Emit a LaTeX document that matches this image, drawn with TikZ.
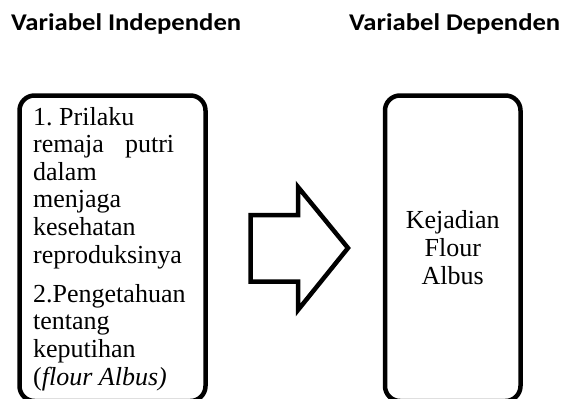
\documentclass[tikz,border=0pt]{standalone}
\usepackage{fontspec}
\setmainfont{Liberation Serif}
\newfontfamily\headfont{Carlito}
\frenchspacing
\begin{document}
\begin{tikzpicture}[x=1pt,y=-1pt,
  varbox/.style={draw=black, line width=4.5pt, rounded corners=15pt, inner sep=0pt},
  headtext/.style={anchor=base west, inner sep=0pt, font=\headfont\bfseries\fontsize{24pt}{28pt}\selectfont},
  bodytext/.style={inner sep=0pt}]
\useasboundingbox (0,0) rectangle (563,399);
% headers
\node[headtext] (hind) at (11,30) {\scalebox{1.11}[1]{Variabel Independen}};
\node[headtext] (hdep) at (349,30) {\scalebox{1.11}[1]{Variabel Dependen}};
% boxes
\node[varbox, minimum width=186pt, minimum height=305.5pt] (indep) at (112.5,248.25) {};
\node[varbox, minimum width=135.5pt, minimum height=305.5pt] (dep) at (452.75,248.25) {};
% left text
\node[bodytext, anchor=base west] (indeptext) at (33,125) {\vtop{\hsize=170pt\parindent=0pt\fontsize{26pt}{27.6pt}\selectfont
1. Prilaku\par
\hbox to 141pt{remaja\hfill putri}
dalam\par
menjaga\par
kesehatan\par
reproduksinya\par
\vskip 11.7pt
2.Pengetahuan\par
tentang\par
keputihan\par
(\textit{flour Albus)}\par}};
% right text
\node[bodytext, anchor=base] (deptext) at (452.75,228) {\vtop{\hsize=130pt\parindent=0pt\centering\fontsize{26pt}{28pt}\selectfont
Kejadian\par
Flour\par
Albus\par}};
% block arrow
\draw[line width=4.5pt, line join=miter] (250.5,215) -- (298,215) -- (298,187) -- (348,248) -- (298,310) -- (298,281.5) -- (250.5,281.5) -- cycle;
\end{tikzpicture}
\end{document}
